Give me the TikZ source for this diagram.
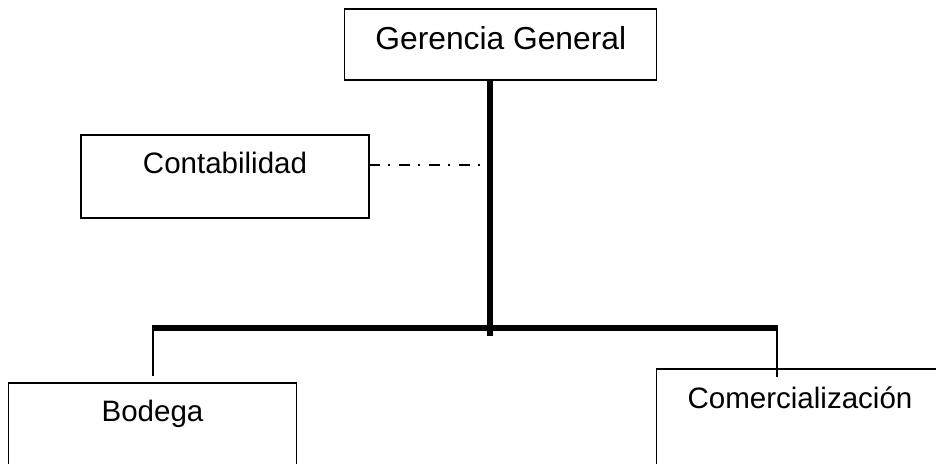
\documentclass[tikz,border=0pt]{standalone}
\usepackage{fontspec}
\setmainfont{Liberation Sans}
\tikzset{
  box/.style={draw, line width=0.9pt, inner sep=0pt, outer sep=0pt, anchor=base,
    font=\fontsize{21}{24}\selectfont},
  trunk/.style={line width=4.3pt},
  thin/.style={line width=0.9pt},
  dashdot/.style={line width=1.3pt, dash pattern=on 0.28cm off 0.2cm on 0.05cm off 0.22cm}
}
\begin{document}
\begin{tikzpicture}
  \useasboundingbox (0,0) rectangle (23.4,11.6);
  \node[box, minimum width=7.8cm, text height=1.025cm, text depth=0.75cm,
    font=\fontsize{22.6}{26}\selectfont] (G) at (12.52,10.35) {Gerencia General};
  \node[box, minimum width=7.2cm, text height=0.9575cm, text depth=1.1175cm] (C) at (5.625,7.2675) {Contabilidad};
  \node[box, minimum width=7.21cm, text height=0.9675cm, text depth=1.5cm] (B) at (3.8125,1.0575) {Bodega};
  \node[box, minimum width=7.165cm, text height=0.98cm, text depth=2cm] (M) at (20,1.3925) {Comercialización};
  \coordinate (T) at (12.24,3.2);
  \coordinate (D) at (12.12,7.475);
  \coordinate (L) at (3.825,3.4);
  \coordinate (R) at (19.425,3.4);
  \coordinate (Lb) at (3.825,2.2);
  \coordinate (Rb) at (19.425,2.18);
  \draw[trunk] (G.south -| T) -- (T);
  \draw[trunk] ([xshift=-0.4pt]L) -- ([xshift=0.4pt]R);
  \draw[thin] ([yshift=2pt]L) -- (Lb);
  \draw[thin] ([yshift=2pt]R) -- (Rb);
  \draw[dashdot] (C.east |- D) -- (D);

\end{tikzpicture}
\end{document}
